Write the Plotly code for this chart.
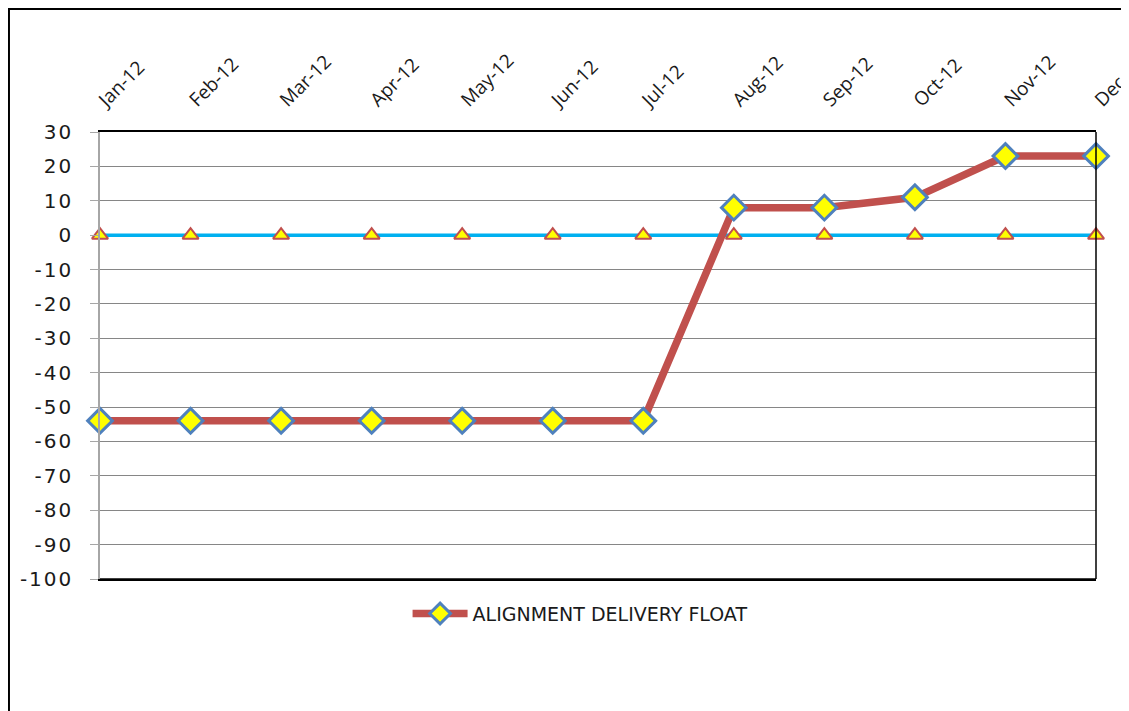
import plotly.graph_objects as go

months = ["Jan-12", "Feb-12", "Mar-12", "Apr-12", "May-12", "Jun-12",
          "Jul-12", "Aug-12", "Sep-12", "Oct-12", "Nov-12", "Dec-12"]
float_values = [-54, -54, -54, -54, -54, -54, -54, 8, 8, 11, 23, 23]
baseline = [0, 0, 0, 0, 0, 0, 0, 0, 0, 0, 0, 0]
y_ticks = [30, 20, 10, 0, -10, -20, -30, -40, -50, -60, -70, -80, -90, -100]
y_tick_labels = ["\u200a".join(str(v)) for v in y_ticks]

fig = go.Figure()

fig.add_trace(go.Scatter(
    x=months, y=baseline, mode="lines+markers", showlegend=False,
    line=dict(color="#00B0F0", width=3.5),
    marker=dict(symbol="triangle-up", size=14, color="#FFFF00",
                line=dict(color="#C0504D", width=2)),
    cliponaxis=False,
))

fig.add_trace(go.Scatter(
    x=months, y=float_values, mode="lines+markers",
    name="ALIGNMENT DELIVERY FLOAT",
    line=dict(color="#C0504D", width=7.5),
    marker=dict(symbol="diamond", size=19, color="#FFFF00",
                line=dict(color="#4F81BD", width=3)),
    cliponaxis=False,
))

fig.update_layout(
    width=1129, height=711,
    margin=dict(l=92, r=41, t=124, b=140),
    paper_bgcolor="white", plot_bgcolor="white",
    font=dict(family="DejaVu Sans", color="#000000"),
    xaxis=dict(
        type="category", side="top", range=[0, 11], automargin=False,
        tickangle=-45, tickfont=dict(family="Open Sans", size=19, color="#1a1a1a"),
        ticklabelstandoff=12,
        showgrid=False,
        showline=True, linecolor="#000000", mirror=True, linewidth=1.5,
        ticks="", zeroline=False,
    ),
    yaxis=dict(
        range=[-100, 30], tickvals=y_ticks, ticktext=y_tick_labels,
        automargin=False,
        tickfont=dict(family="DejaVu Sans", size=20, color="#1a1a1a"),
        showgrid=True, gridcolor="#868686", gridwidth=1,
        showline=True, linecolor="#A6A6A6", linewidth=1.5,
        ticks="outside", ticklen=8, tickcolor="#A6A6A6",
        zeroline=False, ticklabelstandoff=15,
    ),
    legend=dict(
        orientation="h", x=0.482, xanchor="center", y=-0.035, yanchor="top",
        font=dict(family="DejaVu Sans", size=19, color="#1a1a1a"),
        itemwidth=55,
    ),
    shapes=[
        dict(type="rect", xref="paper", yref="paper",
             x0=-0.0914, y0=-0.5, x1=1.2, y1=1.275,
             line=dict(color="#000000", width=2), layer="below"),
        dict(type="line", xref="paper", yref="paper",
             x0=0, x1=1, y0=0, y1=0,
             line=dict(color="#000000", width=1.5)),
        dict(type="line", xref="paper", yref="paper",
             x0=1, x1=1, y0=0, y1=1,
             line=dict(color="#000000", width=1.5)),
    ],
)

fig.write_html("out.html")
